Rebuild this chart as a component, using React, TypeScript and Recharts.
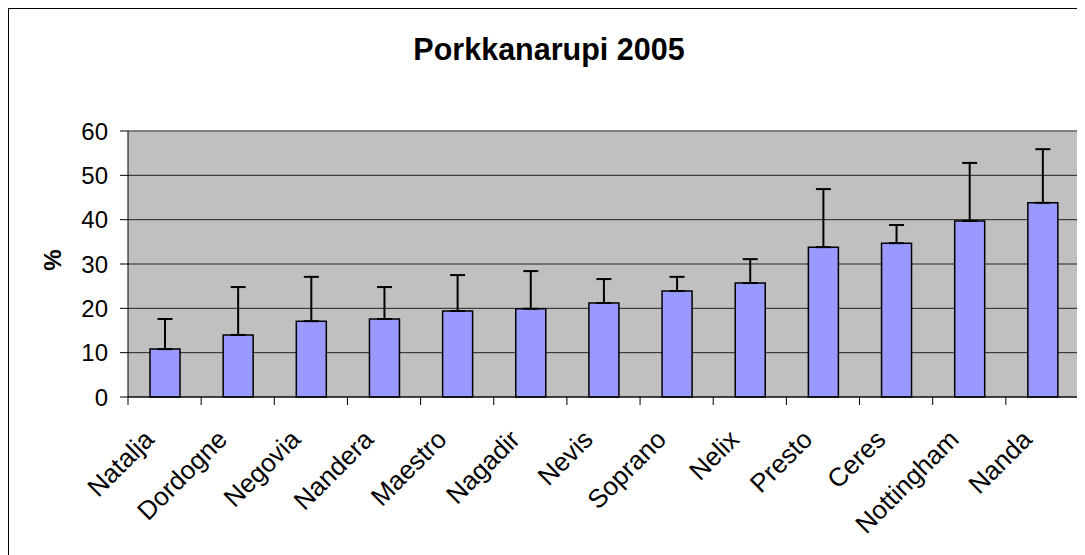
import {
  BarChart,
  Bar,
  XAxis,
  YAxis,
  CartesianGrid,
  ErrorBar,
  ReferenceLine,
} from 'recharts';

const varieties = [
  'Natalja',
  'Dordogne',
  'Negovia',
  'Nandera',
  'Maestro',
  'Nagadir',
  'Nevis',
  'Soprano',
  'Nelix',
  'Presto',
  'Ceres',
  'Nottingham',
  'Nanda',
];
const percent = [10.8, 14.0, 17.1, 17.6, 19.4, 19.9, 21.2, 23.9, 25.7, 33.8, 34.7, 39.7, 43.8];
const errorPlus = [6.8, 10.8, 10.0, 7.2, 8.1, 8.5, 5.4, 3.2, 5.4, 13.1, 4.1, 13.1, 12.1];
const yTicks = [0, 10, 20, 30, 40, 50, 60];

const data = varieties.map((name, i) => ({
  name,
  value: percent[i],
  err: [0, errorPlus[i]],
}));

const FONT = '"Liberation Sans", Arial, sans-serif';

// rotated label plus Excel-style tick marks on the category boundaries
function CategoryTick(props: any) {
  const { x, y, payload, index, visibleTicksCount, width } = props;
  const half = payload.offset || width / visibleTicksCount / 2;
  const left = x - half;
  const right = x + half;
  return (
    <g>
      <line x1={left} y1={y} x2={left} y2={y + 8} stroke="#000" />
      {index === visibleTicksCount - 1 && (
        <line x1={right} y1={y} x2={right} y2={y + 8} stroke="#000" />
      )}
      <text
        x={0}
        y={0}
        transform={`translate(${x - 9}, ${y + 44}) rotate(-45)`}
        textAnchor="end"
        fontSize={26}
        fontFamily={FONT}
        fill="#000"
      >
        {payload.value}
      </text>
    </g>
  );
}

export default function App() {
  return (
    <div
      style={{
        position: 'relative',
        width: 1076,
        height: 546,
        borderLeft: '1px solid #000',
        borderTop: '1px solid #000',
        overflow: 'hidden',
        background: '#fff',
        fontFamily: FONT,
      }}
    >
      <div
        style={{
          position: 'absolute',
          left: -1,
          top: 25,
          width: 1082,
          textAlign: 'center',
          fontSize: 30.5,
          lineHeight: '30px',
          fontWeight: 'bold',
          color: '#000',
        }}
      >
        Porkkanarupi 2005
      </div>
      <BarChart
        width={1076}
        height={546}
        data={data}
        margin={{ top: 122, right: 6, left: 0, bottom: 0 }}
      >
        <CartesianGrid
          vertical={false}
          stroke="#222"
          fill="#C0C0C0"
          fillOpacity={1}
        />
        <XAxis
          dataKey="name"
          height={158}
          axisLine={{ stroke: '#000' }}
          tickLine={false}
          tickSize={0}
          tickMargin={0}
          interval={0}
          tick={<CategoryTick />}
        />
        <YAxis
          width={119}
          domain={[0, 60]}
          ticks={yTicks}
          tickSize={8}
          tickMargin={12}
          axisLine={{ stroke: '#000' }}
          tickLine={{ stroke: '#000' }}
          tick={{ fontSize: 24, fill: '#000', fontFamily: FONT }}
          label={{
            content: () => (
              <text
                x={43}
                y={251}
                transform="rotate(-90 43 251)"
                textAnchor="middle"
                dominantBaseline="central"
                fontSize={24}
                fontWeight="bold"
                fontFamily={FONT}
                fill="#000"
              >
                %
              </text>
            ),
          }}
        />
        <ReferenceLine y={60} stroke="#808080" strokeWidth={1.5} />
        <ReferenceLine x="Nanda" position="end" stroke="#808080" strokeWidth={1.5} />
        <Bar
          dataKey="value"
          fill="#9999FF"
          stroke="#000"
          strokeWidth={1.5}
          barSize={30}
          isAnimationActive={false}
        >
          <ErrorBar
            dataKey="err"
            direction="y"
            width={7.5}
            stroke="#000"
            strokeWidth={2}
          />
        </Bar>
      </BarChart>
    </div>
  );
}
